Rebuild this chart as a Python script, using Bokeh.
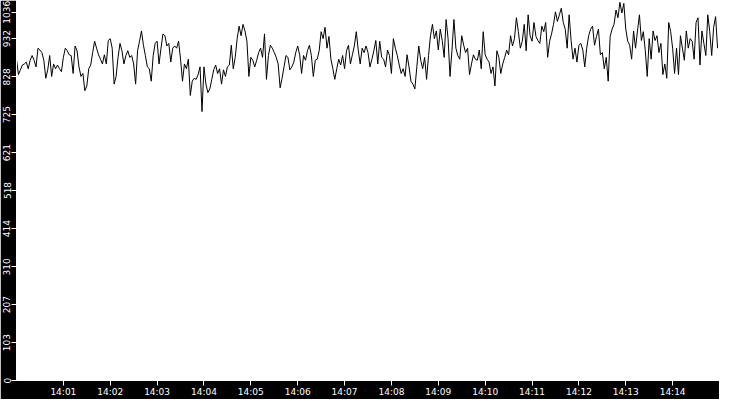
import pandas as pd
from bokeh.plotting import figure
from bokeh.models import FixedTicker, DatetimeTickFormatter, Range1d
from bokeh.embed import file_html
from bokeh.resources import INLINE

# ---- data ----
day = "2024-01-01"
start_time = "14:00:00"
end_time = "14:15:00"
sample_ms = 2500

values_1 = [876, 834, 847, 860, 863, 868, 850, 873, 886, 873, 855, 906, 901, 894, 873, 824, 847, 886, 829, 863,
            850, 860, 850, 842, 881, 906, 899, 888, 886, 837, 912, 899, 855, 829, 837, 790, 803, 850, 860, 894,
            925, 906, 888, 876, 863, 888, 863, 927, 932, 906, 808, 829, 881, 919, 899, 863, 886, 899, 881, 886]
values_2 = [863, 808, 899, 925, 953, 914, 886, 855, 850, 816, 886, 919, 925, 863, 906, 945, 940, 912, 919, 868,
            906, 912, 906, 925, 876, 816, 863, 850, 876, 777, 816, 824, 821, 834, 855, 733, 855, 808, 785, 795,
            821, 847, 860, 837, 850, 808, 847, 829, 855, 860, 914, 850, 881, 932, 966, 940, 971, 953, 925, 829]
values_3 = [881, 873, 855, 873, 894, 906, 881, 945, 821, 886, 914, 906, 894, 881, 863, 798, 824, 855, 886, 881,
            847, 855, 868, 894, 912, 888, 837, 886, 873, 899, 914, 886, 829, 873, 876, 899, 951, 932, 963, 906,
            938, 876, 850, 821, 850, 876, 860, 886, 850, 899, 914, 863, 888, 912, 951, 901, 863, 906, 894, 912]
values_4 = [894, 855, 876, 899, 927, 863, 925, 881, 876, 855, 901, 886, 837, 932, 906, 886, 860, 837, 850, 829,
            888, 855, 816, 808, 795, 855, 912, 873, 850, 881, 821, 886, 940, 971, 932, 953, 901, 958, 927, 881,
            984, 932, 829, 901, 984, 906, 886, 876, 940, 914, 894, 906, 834, 863, 888, 876, 873, 901, 850, 951]
values_5 = [888, 876, 868, 837, 855, 803, 899, 881, 837, 863, 881, 901, 888, 940, 912, 932, 989, 951, 906, 925,
            971, 899, 997, 940, 925, 976, 938, 927, 919, 966, 951, 976, 881, 925, 945, 971, 1005, 979, 997, 1015,
            976, 958, 906, 997, 927, 876, 906, 868, 914, 919, 901, 855, 906, 940, 958, 966, 914, 938, 958, 888]
values_6 = [894, 850, 881, 816, 938, 958, 971, 1010, 989, 1031, 1002, 1028, 958, 925, 914, 876, 953, 906, 953, 997,
            927, 951, 899, 829, 932, 876, 953, 927, 940, 894, 919, 834, 863, 824, 976, 951, 906, 837, 906, 834,
            940, 906, 873, 953, 906, 932, 925, 876, 976, 989, 860, 953, 919, 886, 997, 951, 886, 963, 992, 906]

y_ticks = [0, 103, 207, 310, 414, 518, 621, 725, 828, 932, 1036]
x_tick_labels = ["14:01", "14:02", "14:03", "14:04", "14:05", "14:06", "14:07",
                 "14:08", "14:09", "14:10", "14:11", "14:12", "14:13", "14:14"]

# ---- build ----
values = values_1 + values_2 + values_3 + values_4 + values_5 + values_6
epoch = pd.Timestamp("1970-01-01")


def to_ms(hhmm):
    return (pd.Timestamp(f"{day} {hhmm}") - epoch) // pd.Timedelta("1ms")


t0 = int(to_ms(start_time))
t1 = int(to_ms(end_time))
times = [t0 + i * sample_ms for i in range(len(values))]
x_ticks = [int(to_ms(lbl + ":00")) for lbl in x_tick_labels]

p = figure(width=719, height=399, output_backend="svg", toolbar_location=None,
           x_axis_type="datetime",
           x_range=Range1d(t0, t1), y_range=Range1d(y_ticks[0], y_ticks[-1]))
p.min_border_left = 0
p.min_border_right = 0
p.min_border_top = 0
p.min_border_bottom = 0
p.background_fill_color = "white"
p.border_fill_color = "black"
p.outline_line_color = None
p.xgrid.visible = False
p.ygrid.visible = False

p.line(times, values, line_color="black", line_width=1)

for ax in (p.xaxis[0], p.yaxis[0]):
    ax.axis_line_color = "white"
    ax.major_tick_line_color = "white"
    ax.major_tick_out = 5
    ax.major_tick_in = 0
    ax.minor_tick_line_color = None
    ax.major_label_text_color = "white"
    ax.major_label_text_font = "DejaVu Sans"
    ax.major_label_text_font_size = "9px"
    ax.major_label_standoff = 1

p.xaxis.ticker = FixedTicker(ticks=x_ticks)
p.xaxis.formatter = DatetimeTickFormatter(seconds="%H:%M", minsec="%H:%M", minutes="%H:%M",
                                          hourmin="%H:%M", hours="%H:%M")

# the top label is nudged down inside the canvas, as the source chart does
top_label_pos = y_ticks[-1] - 32
p.yaxis.ticker = FixedTicker(ticks=y_ticks[:-1] + [top_label_pos])
p.yaxis.major_label_overrides = {top_label_pos: str(y_ticks[-1])}
p.yaxis.major_label_orientation = "vertical"

open("out.html", "w").write(file_html(p, INLINE))
